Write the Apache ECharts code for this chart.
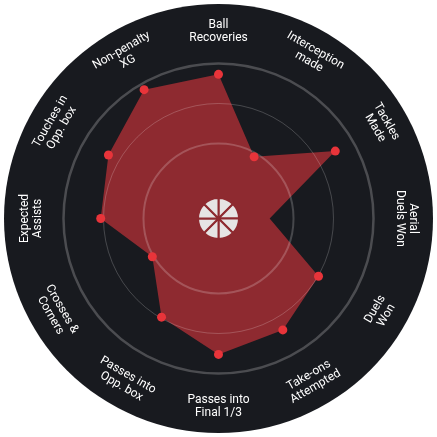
<!DOCTYPE html>
<html>
<head>
<meta charset="utf-8">
<script src="https://cdn.jsdelivr.net/npm/echarts@6/dist/echarts.min.js"></script>
<style>
html,body{margin:0;padding:0;background:#ffffff;}
#chart{width:437px;height:437px;}
</style>
</head>
<body>
<div id="chart"></div>
<script>
// Categories clockwise from the top
var categories = [
  "Ball\nRecoveries", "Interception\nmade", "Tackles\nMade", "Aerial\nDuels Won",
  "Duels\nWon", "Take-ons\nAttempted", "Passes into\nFinal 1/3", "Passes into\nOpp. box",
  "Crosses &\nCorners", "Expected\nAssists", "Touches in\nOpp. box", "Non-penalty\nXG"
];
// Percentile values (0-100), same order as categories
var values = [93, 46, 87, 33, 74.5, 83, 87.7, 73.5, 49.3, 76, 82, 96];
// Which vertices carry a marker dot
var showDot = [true, true, true, false, true, true, true, true, true, true, true, true];
var maxValue = 100;
var ringFractions = [0.484, 0.742, 1.0];

// ECharts radar runs counter-clockwise; reorder to read clockwise
function ccw(arr) { return [arr[0]].concat(arr.slice(1).reverse()); }
var indicators = ccw(categories).map(function (c) { return { name: c, max: maxValue }; });
var polyValues = ccw(values);
var dotValues = ccw(values.map(function (v, i) { return showDot[i] ? v : '-'; }));

var R = 155;
function ringRadar(frac, color, width) {
  return {
    center: ['50%', '50%'], radius: R * frac, startAngle: 90, shape: 'circle',
    splitNumber: 1, z: 3,
    indicator: indicators.map(function () { return { name: '', max: maxValue }; }),
    axisName: { show: false },
    axisLine: { show: false }, axisTick: { show: false }, axisLabel: { show: false },
    splitArea: { show: false },
    splitLine: { show: true, lineStyle: { color: color, width: width } }
  };
}

var n = categories.length;
var labelData = categories.map(function (c, i) {
  var t = i * 360 / n;
  var rot = t <= 90 ? -t : (t < 270 ? 180 - t : 360 - t);
  return { value: 1, name: c, label: { rotate: rot } };
});

var chart = echarts.init(document.getElementById('chart'), null, { renderer: 'canvas' });
chart.setOption({
  animation: false,
  backgroundColor: '#ffffff',
  radar: [
    {
      center: ['50%', '50%'], radius: R, startAngle: 90, shape: 'circle', z: 1,
      indicator: indicators,
      axisName: { show: false },
      axisLine: { show: false }, axisTick: { show: false }, axisLabel: { show: false },
      splitArea: { show: false }, splitLine: { show: false }
    },
    ringRadar(ringFractions[0], 'rgba(255,255,255,0.2)', 2),
    ringRadar(ringFractions[1], 'rgba(255,255,255,0.2)', 1),
    ringRadar(ringFractions[2], '#4b4c50', 2.5)
  ],
  series: [
    {
      type: 'pie', silent: true, z: 0, center: ['50%', '50%'], radius: [0, 214.5],
      label: { show: false }, labelLine: { show: false },
      itemStyle: { color: '#181a1f' },
      data: [{ value: 1, name: 'bg' }]
    },
    {
      type: 'pie', silent: true, z: 1, center: ['50%', '50%'], radius: [159, 210],
      startAngle: 90 + 180 / n, clockwise: true,
      itemStyle: { color: 'rgba(0,0,0,0)' },
      labelLine: { show: false },
      label: {
        show: true, position: 'inside', color: '#ffffff',
        fontFamily: 'Roboto', fontSize: 12, lineHeight: 13, align: 'center'
      },
      data: labelData
    },
    {
      type: 'radar', radarIndex: 0, z: 2, silent: true,
      symbol: 'none',
      lineStyle: { width: 0, color: '#8e2a30' },
      areaStyle: { color: '#8e2a30', opacity: 1 },
      data: [{ value: polyValues }]
    },
    {
      type: 'radar', radarIndex: 0, z: 4, silent: true,
      symbol: 'circle', symbolSize: 9,
      itemStyle: { color: '#e8343a' },
      lineStyle: { width: 0, opacity: 0 },
      data: [{ value: dotValues }]
    },
    {
      type: 'pie', silent: true, z: 6, center: ['50%', '50%'], radius: [0, 20.5],
      startAngle: 90, label: { show: false }, labelLine: { show: false },
      itemStyle: { color: '#e6e4e4', borderColor: '#8e2a30', borderWidth: 2 },
      data: [1, 1, 1, 1, 1, 1, 1, 1].map(function (v) { return { value: v }; })
    }
  ]
});
</script>
</body>
</html>
